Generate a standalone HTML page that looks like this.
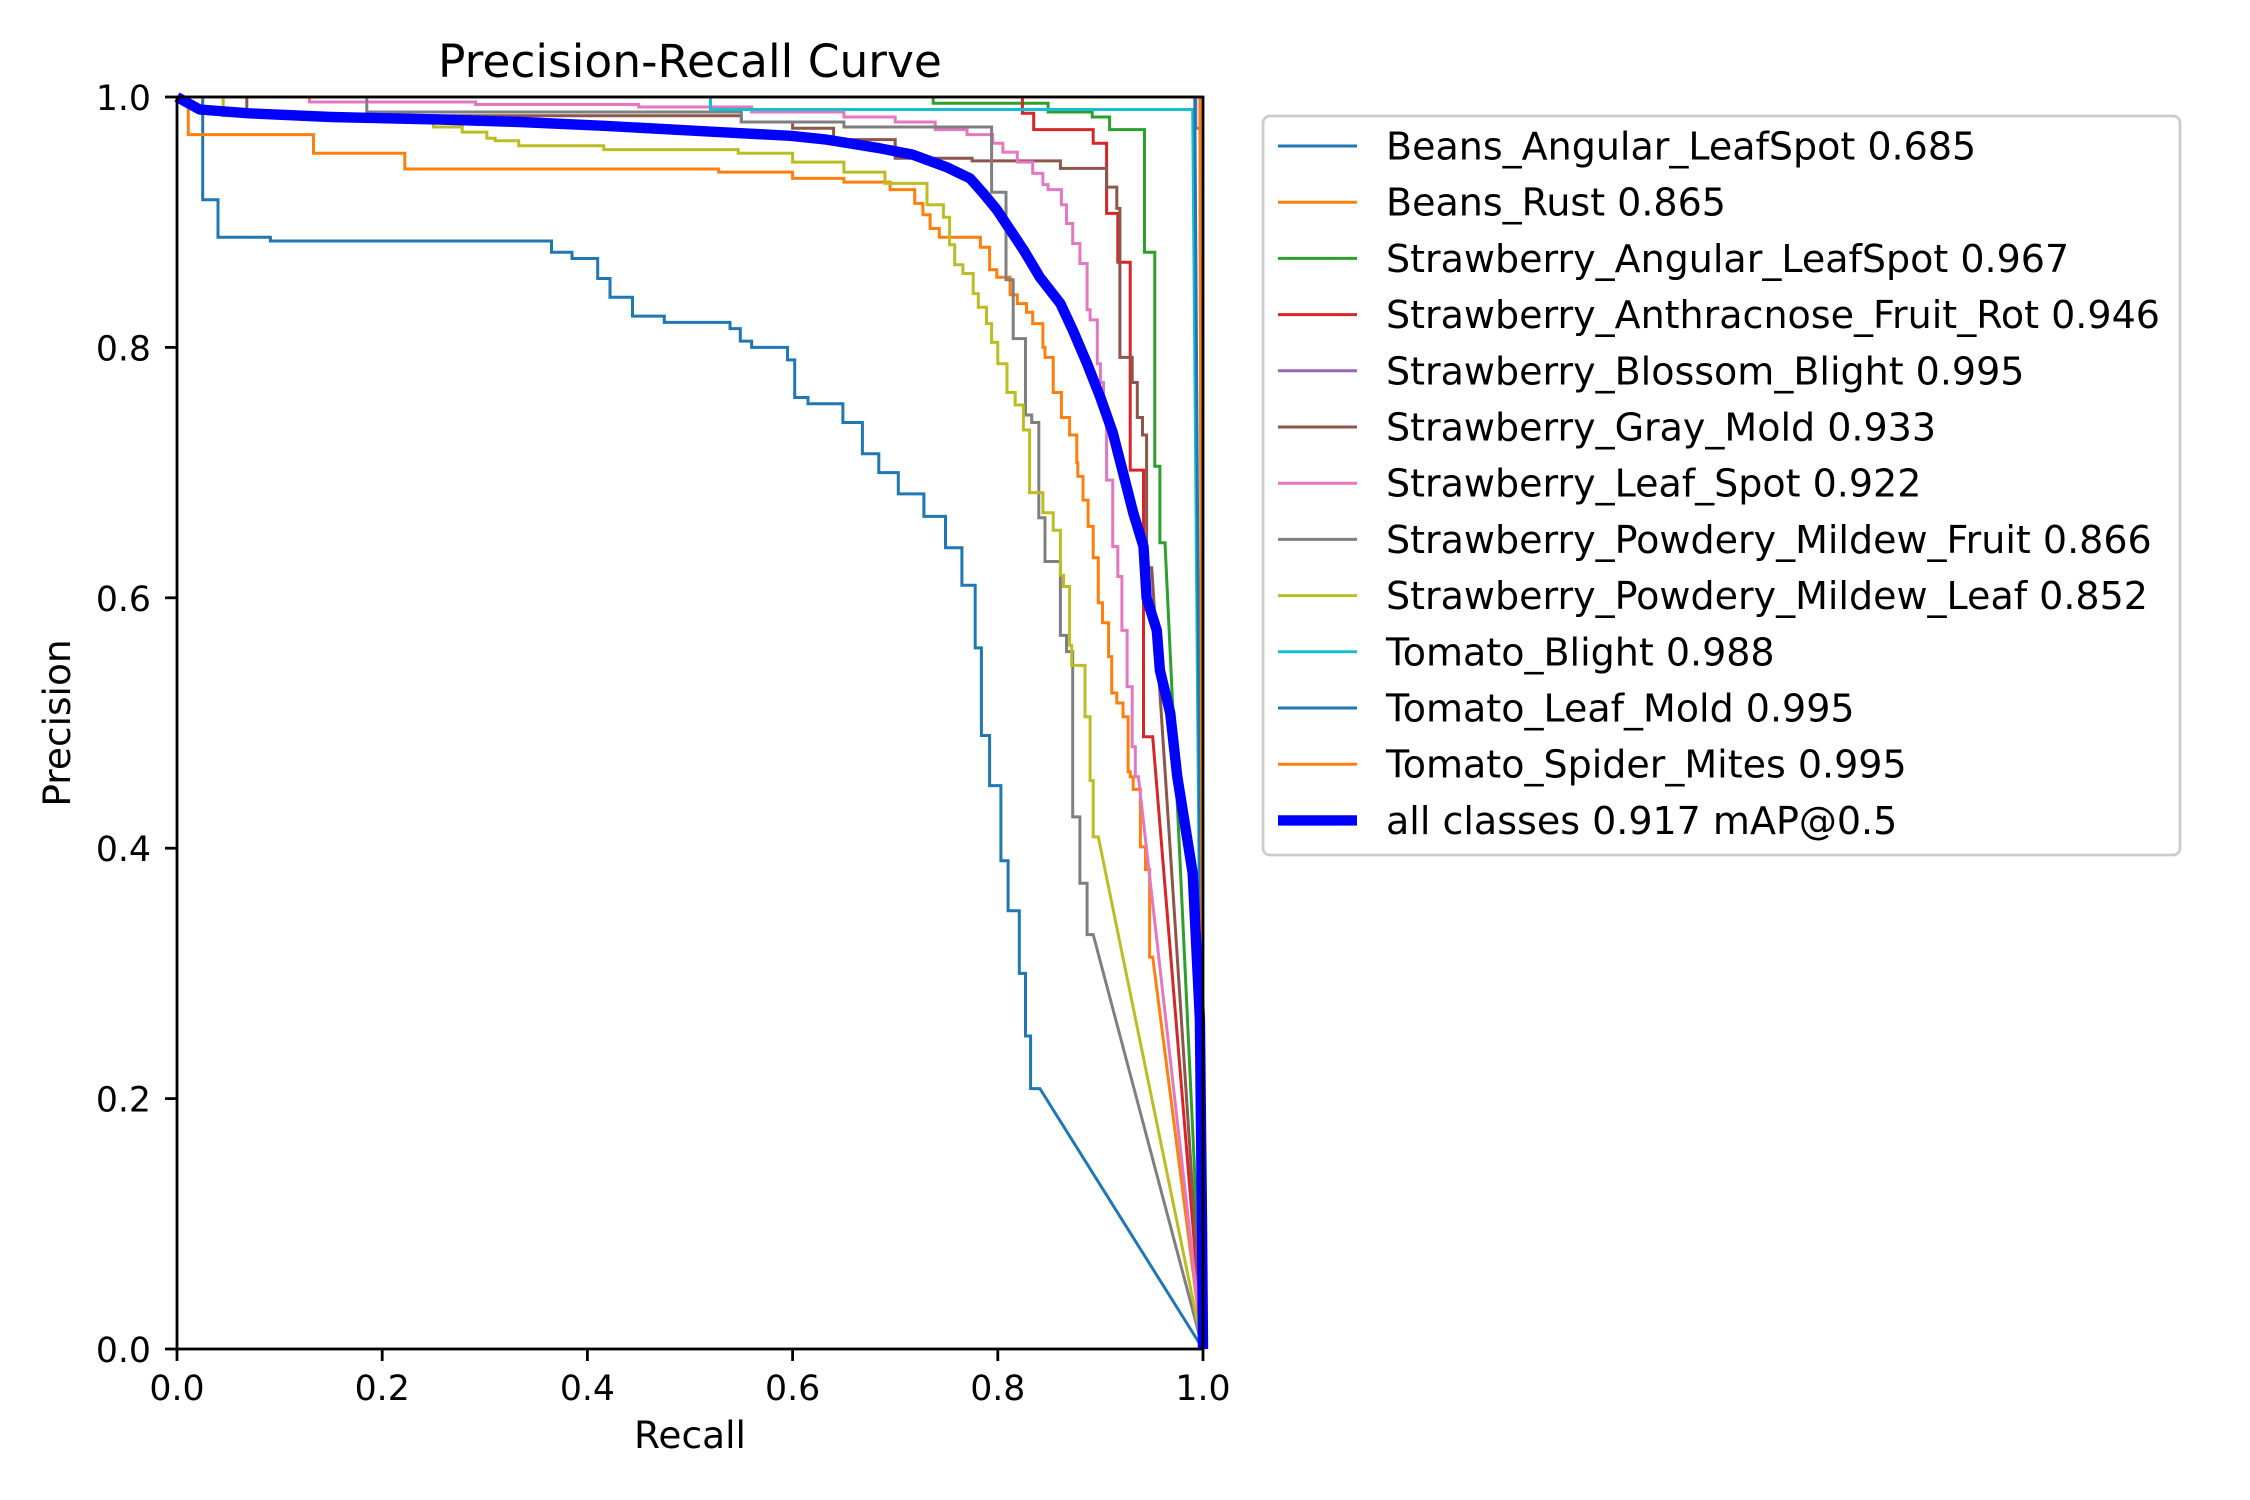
<!DOCTYPE html>
<html>
<head>
<meta charset="utf-8">
<style>
html,body{margin:0;padding:0;background:#fff;}
svg{display:block;font-family:"DejaVu Sans","Liberation Sans",sans-serif;}
</style>
</head>
<body>
<svg id="chart" width="2250" height="1500" viewBox="0 0 2250 1500" xmlns="http://www.w3.org/2000/svg">
<rect x="0" y="0" width="2250" height="1500" fill="#fff"/>
<text x="690" y="77" font-size="45.5" text-anchor="middle" fill="#000">Precision-Recall Curve</text>
<g id="plot"></g>
<g id="axes"></g>
<text x="690" y="1448" font-size="37.5" text-anchor="middle" fill="#000">Recall</text>
<text x="0" y="0" font-size="37.5" text-anchor="middle" fill="#000" transform="translate(70,723) rotate(-90)">Precision</text>
<g id="legend"></g>
</svg>
<script>
const names = ["Beans_Angular_LeafSpot 0.685","Beans_Rust 0.865","Strawberry_Angular_LeafSpot 0.967","Strawberry_Anthracnose_Fruit_Rot 0.946","Strawberry_Blossom_Blight 0.995","Strawberry_Gray_Mold 0.933","Strawberry_Leaf_Spot 0.922","Strawberry_Powdery_Mildew_Fruit 0.866","Strawberry_Powdery_Mildew_Leaf 0.852","Tomato_Blight 0.988","Tomato_Leaf_Mold 0.995","Tomato_Spider_Mites 0.995","all classes 0.917 mAP@0.5"];
const colors = ["#1f77b4","#ff7f0e","#2ca02c","#d62728","#9467bd","#8c564b","#e377c2","#7f7f7f","#bcbd22","#17becf","#1f77b4","#ff7f0e","#0000ff"];
const xTicks = [0,0.2,0.4,0.6,0.8,1.0];
const yTicks = [0,0.2,0.4,0.6,0.8,1.0];
const tickLabels = ["0.0","0.2","0.4","0.6","0.8","1.0"];

const r0 = [0,0.025,0.04,0.091,0.365,0.385,0.41,0.422,0.444,0.475,0.539,0.549,0.56,0.595,0.602,0.615,0.649,0.668,0.684,0.703,0.728,0.749,0.765,0.778,0.784,0.792,0.803,0.81,0.821,0.827,0.832,0.841];
const p0 = [1.0,0.918,0.888,0.885,0.876,0.871,0.855,0.84,0.825,0.82,0.815,0.805,0.80,0.79,0.76,0.755,0.74,0.715,0.70,0.683,0.665,0.64,0.61,0.56,0.49,0.45,0.39,0.35,0.30,0.25,0.208];
const r1 = [0,0.011,0.133,0.222,0.528,0.6,0.65,0.695,0.719,0.727,0.734,0.743,0.783,0.792,0.799,0.812,0.819,0.828,0.834,0.844,0.846,0.854,0.862,0.870,0.877,0.878,0.883,0.888,0.893,0.898,0.902,0.908,0.911,0.916,0.922,0.927,0.929,0.932,0.939,0.944,0.948,0.951];
const p1 = [1,0.97,0.955,0.9425,0.94,0.935,0.932,0.926,0.915,0.906,0.895,0.888,0.88,0.862,0.856,0.842,0.835,0.828,0.819,0.80,0.792,0.764,0.744,0.73,0.708,0.697,0.678,0.657,0.632,0.596,0.58,0.553,0.524,0.516,0.505,0.461,0.457,0.447,0.401,0.383,0.313];
const r2 = [0,0.737,0.849,0.892,0.909,0.943,0.953,0.958,0.963];
const p2 = [1,0.995,0.988,0.984,0.974,0.876,0.705,0.644];
const r3 = [0,0.824,0.835,0.893,0.906,0.917,0.929,0.942,0.951];
const p3 = [1,0.987,0.974,0.963,0.907,0.868,0.702,0.489];
const r4 = [0,0.993,0.997];
const p4 = [1,0.975];
const r5 = [0,0.068,0.55,0.6,0.64,0.70,0.775,0.861,0.906,0.916,0.919,0.931,0.936,0.941,0.945,0.95];
const p5 = [1,0.985,0.98,0.975,0.966,0.951,0.949,0.943,0.928,0.911,0.792,0.772,0.744,0.73,0.624];
const r6 = [0,0.129,0.291,0.45,0.56,0.65,0.70,0.739,0.77,0.795,0.805,0.819,0.834,0.844,0.849,0.862,0.867,0.873,0.88,0.887,0.89,0.897,0.90,0.903,0.906,0.912,0.917,0.921,0.926,0.931,0.934,0.937];
const p6 = [1,0.996,0.994,0.992,0.988,0.984,0.98,0.974,0.97,0.963,0.956,0.948,0.939,0.93,0.926,0.914,0.899,0.883,0.867,0.83,0.822,0.787,0.772,0.752,0.694,0.641,0.617,0.574,0.529,0.481,0.457];
const r7 = [0,0.185,0.55,0.65,0.794,0.808,0.815,0.827,0.833,0.84,0.846,0.861,0.867,0.873,0.88,0.887,0.893];
const p7 = [1,0.988,0.98,0.976,0.924,0.854,0.807,0.746,0.74,0.664,0.629,0.57,0.557,0.425,0.372,0.331];
const r8 = [0,0.045,0.25,0.278,0.302,0.31,0.333,0.416,0.547,0.6,0.65,0.69,0.731,0.747,0.753,0.758,0.766,0.776,0.781,0.789,0.794,0.80,0.809,0.817,0.825,0.831,0.844,0.854,0.861,0.864,0.87,0.872,0.885,0.89,0.893,0.898];
const p8 = [1,0.985,0.976,0.972,0.967,0.965,0.961,0.958,0.955,0.948,0.94,0.931,0.914,0.904,0.882,0.866,0.859,0.843,0.832,0.819,0.804,0.787,0.764,0.754,0.734,0.684,0.668,0.654,0.618,0.609,0.562,0.546,0.505,0.454,0.409];
const r9 = [0,0.52,0.99];
const p9 = [1,0.99];
const r10 = [0,0.992];
const p10 = [1];
const r11 = [0,0.997];
const p11 = [1];
const rAll = [0,0.022,0.07,0.15,0.256,0.334,0.416,0.528,0.598,0.633,0.685,0.717,0.75,0.773,0.786,0.799,0.812,0.825,0.841,0.861,0.873,0.887,0.90,0.912,0.922,0.932,0.942,0.945,0.955,0.958,0.968,0.975,0.99,0.997,0.999,1.0];
const pAll = [1.0,0.99,0.987,0.984,0.982,0.98,0.977,0.972,0.969,0.966,0.959,0.954,0.944,0.935,0.923,0.91,0.894,0.878,0.856,0.835,0.814,0.787,0.76,0.732,0.70,0.668,0.641,0.60,0.574,0.542,0.508,0.457,0.38,0.263,0.1,0.0];

const stepR = [r0,r1,r2,r3,r4,r5,r6,r7,r8,r9,r10,r11];
const stepP = [p0,p1,p2,p3,p4,p5,p6,p7,p8,p9,p10,p11];

const X0=177, X1=1203, Y0=1349, Y1=97;
function xs(r){return X0 + r*(X1-X0);}
function ys(p){return Y0 - p*(Y0-Y1);}
const NS="http://www.w3.org/2000/svg";
const plot=document.getElementById('plot');
const axes=document.getElementById('axes');
const legend=document.getElementById('legend');

const clip=document.createElementNS(NS,'clipPath');
clip.setAttribute('id','clipA');
const cr=document.createElementNS(NS,'rect');
cr.setAttribute('x',X0-6);cr.setAttribute('y',Y1-6);cr.setAttribute('width',X1-X0+12);cr.setAttribute('height',Y0-Y1+12);
clip.appendChild(cr);
document.getElementById('chart').appendChild(clip);
plot.setAttribute('clip-path','url(#clipA)');

for(let i=0;i<stepR.length;i++){
  const R=stepR[i],P=stepP[i];
  let d='M'+xs(R[0]).toFixed(1)+','+ys(P[0]).toFixed(1);
  for(let k=0;k<P.length;k++){
    d+=' L'+xs(R[k+1]).toFixed(1)+','+ys(P[k]).toFixed(1);
    if(k+1<P.length) d+=' L'+xs(R[k+1]).toFixed(1)+','+ys(P[k+1]).toFixed(1);
  }
  d+=' L'+xs(1).toFixed(1)+','+ys(0).toFixed(1);
  const path=document.createElementNS(NS,'path');
  path.setAttribute('d',d);
  path.setAttribute('fill','none');
  path.setAttribute('stroke',colors[i]);
  path.setAttribute('stroke-width','3');
  
  
  plot.appendChild(path);
}
{
  let d='';
  for(let k=0;k<rAll.length;k++){d+=(k?' L':'M')+xs(rAll[k]).toFixed(1)+','+ys(pAll[k]).toFixed(1);}
  const path=document.createElementNS(NS,'path');
  path.setAttribute('d',d);
  path.setAttribute('fill','none');
  path.setAttribute('stroke','#0000ff');
  path.setAttribute('stroke-width','10.4');
  path.setAttribute('stroke-linejoin','round');
  
  
  plot.appendChild(path);
}

const frame=document.createElementNS(NS,'rect');
frame.setAttribute('x',X0);frame.setAttribute('y',Y1);frame.setAttribute('width',X1-X0);frame.setAttribute('height',Y0-Y1);
frame.setAttribute('fill','none');frame.setAttribute('stroke','#000');frame.setAttribute('stroke-width','2.8');


axes.appendChild(frame);

for(let i=0;i<xTicks.length;i++){
  const x=xs(xTicks[i]);
  const t=document.createElementNS(NS,'line');
  t.setAttribute('x1',x);t.setAttribute('x2',x);t.setAttribute('y1',Y0);t.setAttribute('y2',Y0+12);
  t.setAttribute('stroke','#000');t.setAttribute('stroke-width','2.8');
  
  
  axes.appendChild(t);
  const l=document.createElementNS(NS,'text');
  l.setAttribute('x',x);l.setAttribute('y',Y0+51);l.setAttribute('font-size','34.7');l.setAttribute('text-anchor','middle');
  l.textContent=tickLabels[i];
  
  
  axes.appendChild(l);
}
for(let i=0;i<yTicks.length;i++){
  const y=ys(yTicks[i]);
  const t=document.createElementNS(NS,'line');
  t.setAttribute('x1',X0-12);t.setAttribute('x2',X0);t.setAttribute('y1',y);t.setAttribute('y2',y);
  t.setAttribute('stroke','#000');t.setAttribute('stroke-width','2.8');
  
  
  axes.appendChild(t);
  const l=document.createElementNS(NS,'text');
  l.setAttribute('x',X0-26);l.setAttribute('y',y+13);l.setAttribute('font-size','34.7');l.setAttribute('text-anchor','end');
  l.textContent=tickLabels[i];
  
  
  axes.appendChild(l);
}

const box=document.createElementNS(NS,'rect');
box.setAttribute('x',1263);box.setAttribute('y',116);box.setAttribute('width',917);box.setAttribute('height',739);
box.setAttribute('rx',7);box.setAttribute('fill','#fff');box.setAttribute('fill-opacity','0.8');
box.setAttribute('stroke','#cccccc');box.setAttribute('stroke-width','2.8');


legend.appendChild(box);
for(let i=0;i<names.length;i++){
  const y=146+i*56.2;
  const ln=document.createElementNS(NS,'line');
  ln.setAttribute('x1',1278);ln.setAttribute('x2',1357);ln.setAttribute('y1',y);ln.setAttribute('y2',y);
  ln.setAttribute('stroke',colors[i]);ln.setAttribute('stroke-width',i===names.length-1?'10.4':'3');
  
  
  legend.appendChild(ln);
  const tx=document.createElementNS(NS,'text');
  tx.setAttribute('x',1386);tx.setAttribute('y',y+13.5);tx.setAttribute('font-size','38');
  tx.textContent=names[i];
  
  
  legend.appendChild(tx);
}
</script>
</body>
</html>
